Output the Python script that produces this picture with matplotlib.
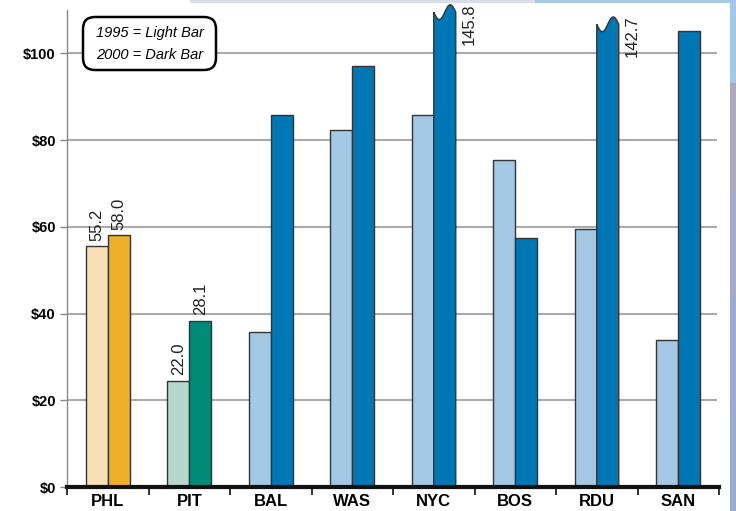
## Cost comparison bar chart, 1995 vs 2000, by city
import numpy as np
import matplotlib
matplotlib.use("Agg")
import matplotlib.pyplot as plt
from matplotlib.patches import Polygon, Rectangle, FancyBboxPatch
from matplotlib.transforms import IdentityTransform

## Data
cities = ["PHL", "PIT", "BAL", "WAS", "NYC", "BOS", "RDU", "SAN"]
# bar heights as drawn
vals1995 = [55.5, 24.5, 35.8, 82.4, 85.7, 75.5, 59.4, 33.9]
vals2000 = [58.0, 38.3, 85.7, 97.2, 145.8, 57.5, 142.7, 105.2]
# printed value labels (None = no label)
labels1995 = ["55.2", "22.0", None, None, None, None, None, None]
labels2000 = ["58.0", "28.1", None, None, "145.8", None, "142.7", None]
# bars that run off the top get a wavy break drawn at this value
breakTops = {4: 109.5, 6: 106.7}

yTicks = [0, 20, 40, 60, 80, 100]
yTickLabels = ["$0", "$20", "$40", "$60", "$80", "$100"]

## Styles
lightColors = ["#F8DFB6", "#B6D7CE"] + ["#A4C8E3"] * 6
darkColors = ["#EFAE2A", "#008A78"] + ["#0077B4"] * 6
edge = "#333333"
font = "Liberation Sans"
barW = 0.27

fig = plt.figure(figsize=(7.36, 5.11), dpi=100)
W, H = 736, 511
ax = fig.add_axes([67 / W, 1 - 487 / H, (719 - 67) / W, (487 - 10) / H])

x = np.arange(len(cities))

# gridlines
ax.hlines(yTicks[1:], -0.5, 7.47, color="#AAAAAA", lw=1.5, zorder=0)

for i in x:
    # light (1995) bar
    ax.bar(i - barW / 2, vals1995[i], width=barW, color=lightColors[i],
           edgecolor=edge, lw=1.0, zorder=2)
    # dark (2000) bar
    if i in breakTops:
        top = breakTops[i]
        t = np.linspace(0, 1, 40)
        xs = i + t * barW
        ys = top - 1.7 * np.sin(2 * np.pi * t)
        pts = [(i, 0)] + list(zip(xs, ys)) + [(i + barW, 0)]
        ax.add_patch(Polygon(pts, closed=True, fc=darkColors[i], ec=edge,
                             lw=1.0, zorder=2, clip_on=False))
    else:
        ax.bar(i + barW / 2, vals2000[i], width=barW, color=darkColors[i],
               edgecolor=edge, lw=1.0, zorder=2)

# value labels
for i in x:
    if labels1995[i]:
        ax.annotate(labels1995[i], (i - barW / 2, vals1995[i]),
                    xytext=(0, 4), textcoords="offset points",
                    rotation=90, ha="center", va="bottom",
                    fontsize=12, family=font, color="#222222")
    if labels2000[i]:
        if i in breakTops:
            ax.text(i + barW + 0.17, breakTops[i] + 2.0, labels2000[i],
                    rotation=90, ha="center", va="top", fontsize=12,
                    family=font, color="#222222", clip_on=False)
        else:
            ax.annotate(labels2000[i], (i + barW / 2, vals2000[i]),
                        xytext=(0, 4), textcoords="offset points",
                        rotation=90, ha="center", va="bottom",
                        fontsize=12, family=font, color="#222222")

## Axes styling
ax.set_xlim(-0.5, 7.5)
ax.set_ylim(0, 110)
ax.spines["top"].set_visible(False)
ax.spines["right"].set_visible(False)
ax.spines["left"].set_color("#888888")
ax.spines["left"].set_linewidth(1.0)
ax.spines["bottom"].set_color("#111111")
ax.spines["bottom"].set_linewidth(3.0)
ax.spines["bottom"].set_zorder(3)

ax.set_yticks(yTicks)
ax.set_yticklabels(yTickLabels, fontsize=10.5, fontweight="bold", family=font)
ax.tick_params(axis="y", length=5, width=1.0, color="#888888", pad=3)

ax.set_xticks(np.arange(-0.5, 8, 1))
ax.set_xticklabels([])
ax.tick_params(axis="x", which="major", length=6, width=1.2, color="#111111")
ax.set_xticks(x, minor=True)
ax.set_xticklabels(cities, minor=True, fontsize=12, fontweight="bold",
                   family=font)
ax.tick_params(axis="x", which="minor", length=0, pad=5)

## Legend box (pixel coords)
box = FancyBboxPatch((83, H - 70), 133, 53,
                     boxstyle="round,pad=0,rounding_size=12",
                     fc="white", ec="black", lw=1.8,
                     transform=IdentityTransform(), zorder=5)
fig.add_artist(box)
fig.text(149.5 / W, 1 - 33 / H, "1995 = Light Bar", ha="center", va="center",
         fontsize=10.5, style="italic", family=font, zorder=6)
fig.text(149.5 / W, 1 - 55 / H, "2000 = Dark Bar", ha="center", va="center",
         fontsize=10.5, style="italic", family=font, zorder=6)

## Page decoration strips
fig.add_artist(Rectangle((190, H - 3), 345, 3, fc="#D9DDE9", ec="none",
                         transform=IdentityTransform()))
fig.add_artist(Rectangle((535, H - 3), 201, 3, fc="#A9C8E6", ec="none",
                         transform=IdentityTransform()))
fig.add_artist(Rectangle((730, H - 84), 6, 84, fc="#A7C6E4", ec="none",
                         transform=IdentityTransform()))
stripCols = ["#ADA8BB", "#A5AAC6", "#9CACD0", "#9AACCE"]
for k, c in enumerate(stripCols):
    seg = (H - 84) / len(stripCols)
    fig.add_artist(Rectangle((730, H - 84 - (k + 1) * seg), 6, seg + 1,
                             fc=c, ec="none", transform=IdentityTransform()))

fig.savefig("out.png", dpi=100)
